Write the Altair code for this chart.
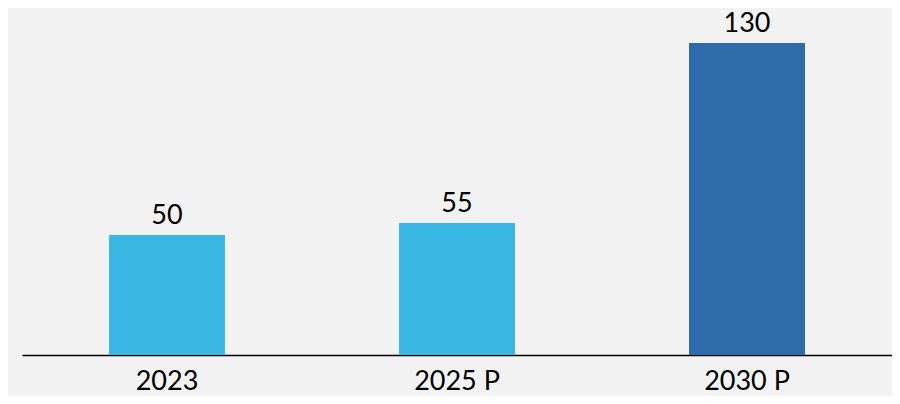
import altair as alt
import pandas as pd

categories = ["2023", "2025 P", "2030 P"]
values = [50, 55, 130]
colors = ["#3bb7e6", "#3bb7e6", "#2f6aaa"]

df = pd.DataFrame({"cat": categories, "val": values, "color": colors})

FONT = "Lato"

base = alt.Chart(df).encode(
    x=alt.X("cat:N", sort=categories,
            scale=alt.Scale(paddingInner=0.6, paddingOuter=0.3),
            axis=alt.Axis(title=None, labelAngle=0, ticks=False, tickSize=0,
                          labelPadding=34, labelBaseline="alphabetic",
                          labelFont=FONT, labelFontSize=27, labelColor="#000000",
                          domainColor="#000000", domainWidth=1.6, grid=False)),
)

bars = base.mark_bar().encode(
    y=alt.Y("val:Q", scale=alt.Scale(domain=[0, 140], nice=False), axis=None),
    color=alt.Color("color:N", scale=None),
)

labels = base.mark_text(baseline="alphabetic", dy=-11, font=FONT, fontSize=27,
                        color="#000000").encode(
    y=alt.Y("val:Q"),
    text=alt.Text("val:Q"),
)

chart = (bars + labels).properties(
    width=870, height=336,
    background="#f2f2f2",
    padding={"left": 14, "top": 11, "right": 0, "bottom": 41},
    autosize=alt.AutoSizeParams(type="none"),
).configure_view(stroke=None)

chart.save("out.html", embed_options={"renderer": "svg", "actions": False})
